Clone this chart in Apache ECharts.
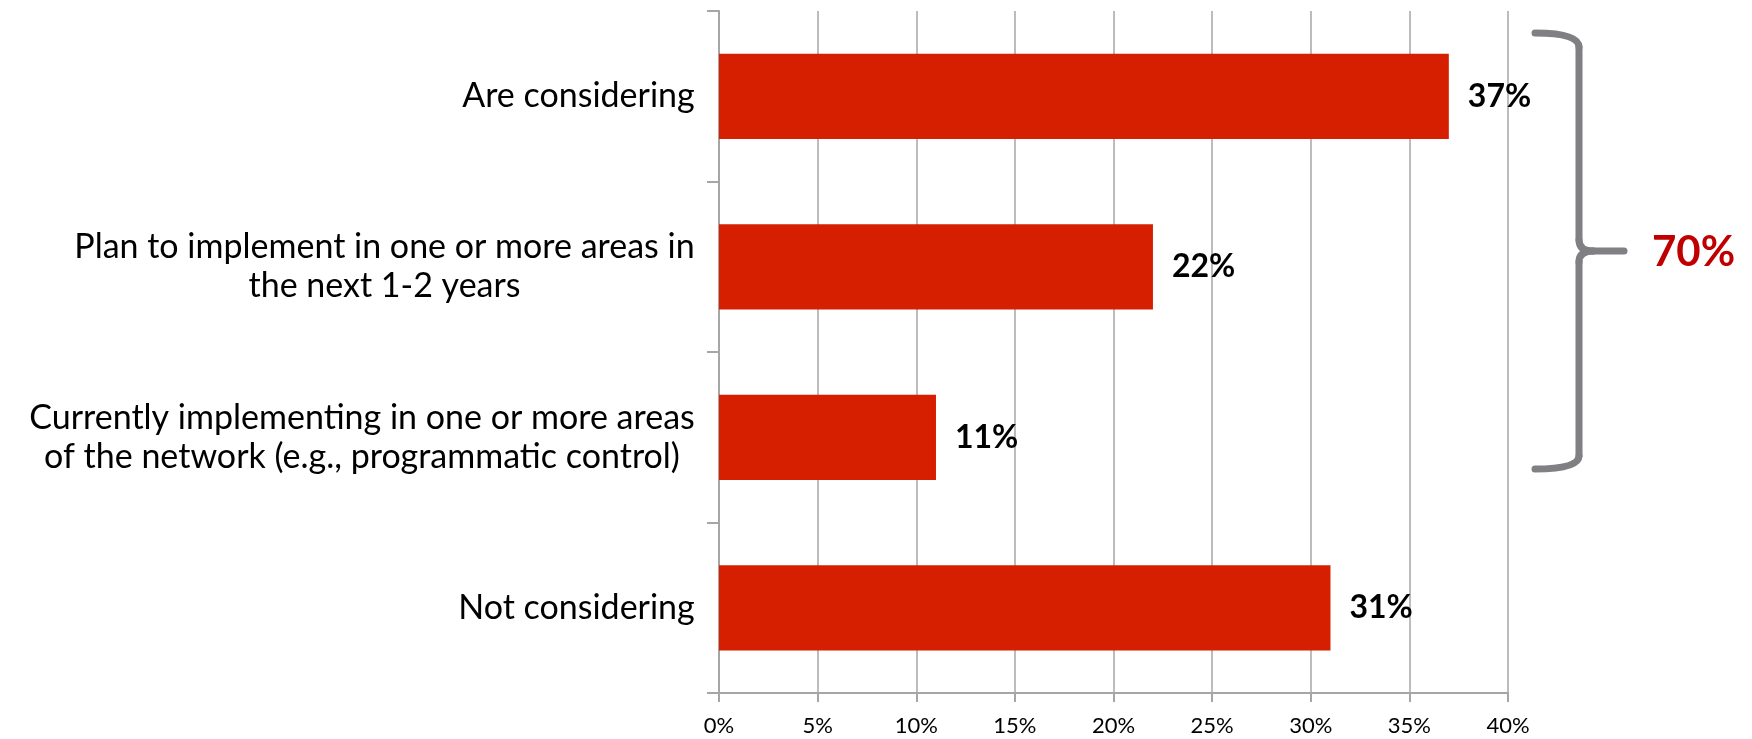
<!DOCTYPE html>
<html><head><meta charset="utf-8">
<script src="https://cdn.jsdelivr.net/npm/echarts@6/dist/echarts.min.js"></script>
<style>html,body{margin:0;padding:0;background:#fff}#c{width:1752px;height:739px}</style>
</head><body><div id="c"></div>
<script>
const categories = [
  'Are considering',
  'Plan to implement in one or more areas in\nthe next 1-2 years',
  'Currently implementing in one or more areas\nof the network (e.g., programmatic control)',
  'Not considering'
];
const values = [37, 22, 11, 31];
const axisMin = 0, axisMax = 40, axisStep = 5;
const bracketIdx = [0, 1, 2];
const bracketTotal = bracketIdx.reduce((s, i) => s + values[i], 0);

const FONT = 'Lato';
const catSize = 34;
const cv = document.createElement('canvas').getContext('2d');
cv.font = catSize + 'px ' + FONT;
const rich = {};
categories.forEach((c, i) => {
  const w = Math.max(...c.split('\n').map(l => cv.measureText(l).width));
  rich['c' + i] = {width: Math.ceil(w) + 2, align: 'center', fontSize: catSize, fontFamily: FONT, color: '#000', lineHeight: 39};
});

const bStyle = {fill: null, stroke: '#7F7F84', lineWidth: 7, lineCap: 'round'};
const seg = [
  {type: 'bezierCurve', shape: {x1: 1535, y1: 33, cpx1: 1579, cpy1: 33, x2: 1579, y2: 47}},
  {type: 'line', shape: {x1: 1579, y1: 47, x2: 1579, y2: 240}},
  {type: 'bezierCurve', shape: {x1: 1579, y1: 240, cpx1: 1579, cpy1: 251, x2: 1593, y2: 251}},
  {type: 'line', shape: {x1: 1593, y1: 251, x2: 1624, y2: 251}},
  {type: 'bezierCurve', shape: {x1: 1593, y1: 251, cpx1: 1579, cpy1: 251, x2: 1579, y2: 262}},
  {type: 'line', shape: {x1: 1579, y1: 262, x2: 1579, y2: 456}},
  {type: 'bezierCurve', shape: {x1: 1579, y1: 456, cpx1: 1579, cpy1: 469, x2: 1535, y2: 469}}
].map(s => Object.assign(s, {z: 100, style: bStyle}));

const chart = echarts.init(document.getElementById('c'));
chart.setOption({
  animation: false,
  backgroundColor: '#fff',
  grid: {left: 719, right: 244, top: 11, bottom: 46, containLabel: false},
  xAxis: {
    type: 'value', min: axisMin, max: axisMax, interval: axisStep,
    axisLine: {show: true, lineStyle: {color: '#A6A6A6', width: 2}},
    axisTick: {show: true, length: 9, lineStyle: {color: '#A6A6A6', width: 2}},
    splitLine: {show: true, lineStyle: {color: '#A6A6A6', width: 1.5}},
    axisLabel: {formatter: '{value}%', fontFamily: FONT, fontSize: 22, color: '#000', margin: 22}
  },
  yAxis: {
    type: 'category', data: categories, inverse: true,
    axisLine: {show: true, lineStyle: {color: '#A6A6A6', width: 2}},
    axisTick: {show: true, length: 12, lineStyle: {color: '#A6A6A6', width: 2}},
    axisLabel: {
      margin: 23, rich: rich,
      formatter: (v, i) => v.split('\n').map(l => '{c' + i + '|' + l + '}').join('\n')
    }
  },
  series: [{
    type: 'bar', data: values, barCategoryGap: '50%',
    itemStyle: {color: '#D61E00'},
    label: {show: true, position: 'right', distance: 19, formatter: '{c}%',
      fontFamily: FONT, fontSize: 32, fontWeight: 'bold', color: '#000'}
  }],
  graphic: seg.concat([
    {type: 'text', z: 100, left: 1652, top: 231,
     style: {text: bracketTotal + '%', fontFamily: FONT, fontSize: 42, fontWeight: 'bold', fill: '#C00000'}}
  ])
});
</script></body></html>
